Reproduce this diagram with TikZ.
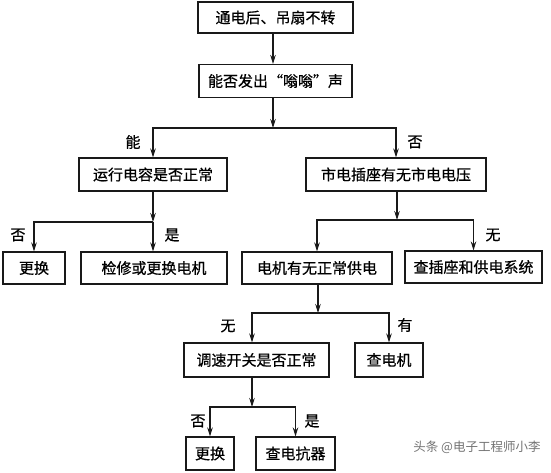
\documentclass[tikz,border=0pt]{standalone}
\usepackage{fontspec}
\newfontfamily\cjk{Noto Sans CJK SC}[FakeBold=0.7]
\newfontfamily\cjkw{Noto Sans CJK SC}
\usetikzlibrary{arrows.meta}
\begin{document}
\begin{tikzpicture}[x=1pt,y=-1pt,
  box/.style={draw=black!90,line width=1.1pt,inner sep=0pt,font=\cjk\fontsize{15}{18}\selectfont},
  lbl/.style={inner sep=0pt,font=\cjk\fontsize{15}{18}\selectfont},
  arr/.style={draw=black!90,line width=1.1pt,-{Stealth[length=9pt,width=5.5pt]}},
  ln/.style={draw=black!90,line width=1.1pt}]
\useasboundingbox (0,0) rectangle (551,473);
% boxes
\node[box,minimum width=155,minimum height=31] (n1) at (275.5,17.5) {通电后、吊扇不转};
\node[box,minimum width=153,minimum height=33] (n2) at (275.5,81) {能否发出“嗡嗡”声};
\node[box,minimum width=148,minimum height=33] (n3) at (153,174.5) {运行电容是否正常};
\node[box,minimum width=180,minimum height=33] (n4) at (396,174.5) {市电插座有无市电电压};
\node[box,minimum width=62,minimum height=32] (n5) at (34,268) {更换};
\node[box,minimum width=146,minimum height=32] (n6) at (154,268) {检修或更换电机};
\node[box,minimum width=150,minimum height=32] (n7) at (317,268) {电机有无正常供电};
\node[box,minimum width=137,minimum height=32] (n8) at (473.5,267) {查插座和供电系统};
\node[box,minimum width=145,minimum height=34] (n9) at (256.5,360) {调速开关是否正常};
\node[box,minimum width=68,minimum height=34] (n10) at (389,360) {查电机};
\node[box,minimum width=48,minimum height=33] (n11) at (210,453.5) {更换};
\node[box,minimum width=79,minimum height=33] (n12) at (295.5,453.5) {查电抗器};
% junctions
\coordinate (j1) at (273,128);
\coordinate (j2) at (153,222);
\coordinate (j3) at (397,220);
\coordinate (j4) at (318,313);
\coordinate (j5) at (252,407);
% connectors
\draw[arr] (n1.south -| j1) -- (n2.north -| j1);
\draw[arr] (n2.south -| j1) -- (j1);
\draw[arr] (j1) -| (n3);
\draw[arr] (j1) -| (n4);
\draw[arr] (n3.south -| j2) -- (j2);
\draw[arr] (j2) -| (n5);
\draw[arr] (j2) -- (n6.north -| j2);
\draw[arr] (n4.south -| j3) -- (j3);
\draw[arr] (j3) -| (n7);
\draw[arr] (j3) -| (n8);
\draw[arr] (n7.south -| j4) -- (j4);
\draw[arr] (j4) -| (n9.north -| j5);
\draw[arr] (j4) -| (n10);
\draw[arr] (n9.south -| j5) -- (j5);
\draw[arr] (j5) -| (n11);
\draw[arr] (j5) -| (n12);
% labels
\node[lbl] (l1) at (133,142) {能};
\node[lbl] (l2) at (415,142) {否};
\node[lbl] (l3) at (18,235) {否};
\node[lbl] (l4) at (172,235) {是};
\node[lbl] (l5) at (493,235) {无};
\node[lbl] (l6) at (228,326) {无};
\node[lbl] (l7) at (405,325) {有};
\node[lbl] (l8) at (198,421) {否};
\node[lbl] (l9) at (312,421) {是};
% watermark
\node[inner sep=0pt,font=\cjkw\fontsize{12.5}{14}\selectfont,text=black!55] (wm) at (477,447) {头条 @电子工程师小李};
\end{tikzpicture}
\end{document}
